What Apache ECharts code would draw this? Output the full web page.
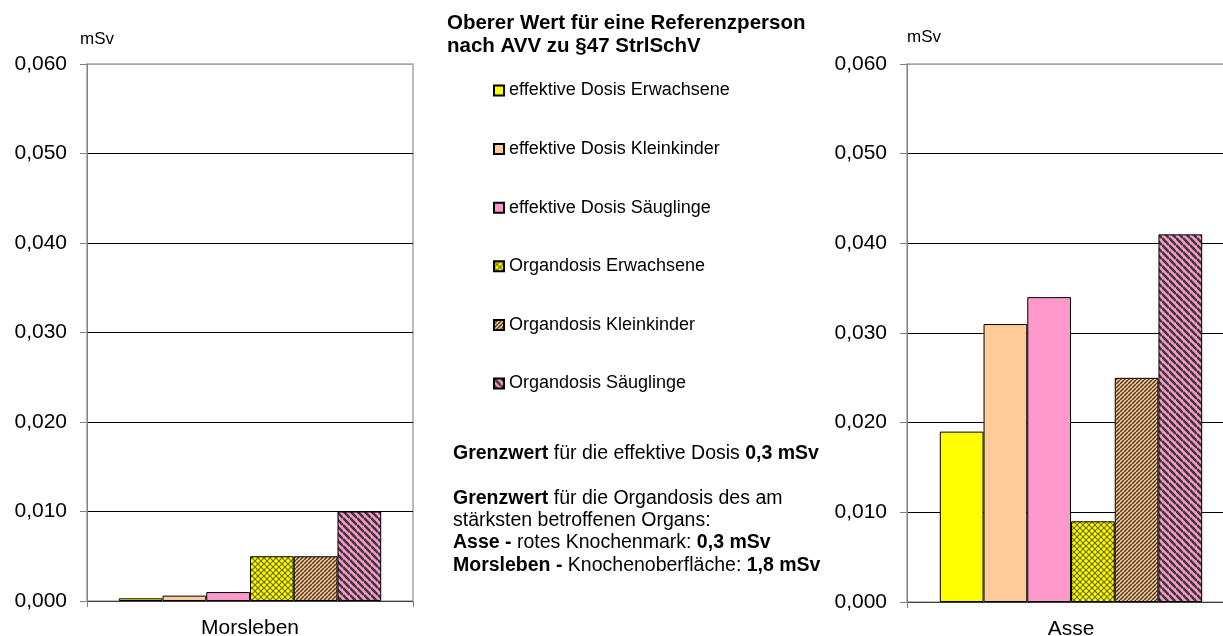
<!DOCTYPE html>
<html>
<head>
<meta charset="utf-8">
<script src="https://cdn.jsdelivr.net/npm/echarts@6/dist/echarts.min.js"></script>
<style>
html,body{margin:0;padding:0;background:#fff;overflow:hidden;}
#wrap{position:relative;width:1223px;height:636px;overflow:hidden;}
#c{position:absolute;left:0;top:0;width:1240px;height:636px;}
</style>
</head>
<body>
<div id="wrap"><div id="c"></div></div>
<script>
// ---- data ----
var seriesNames = ['effektive Dosis Erwachsene','effektive Dosis Kleinkinder','effektive Dosis Säuglinge',
                   'Organdosis Erwachsene','Organdosis Kleinkinder','Organdosis Säuglinge'];
var leftCategories = ['Morsleben'];
var rightCategories = ['Asse'];
var morslebenValues = [0.0003, 0.0006, 0.0010, 0.0050, 0.0050, 0.0100];
var asseValues = [0.019, 0.031, 0.034, 0.009, 0.025, 0.041];
var yTickLabels = ['0,000','0,010','0,020','0,030','0,040','0,050','0,060'];
var yUnit = 'mSv';
var titleLines = ['Oberer Wert für eine Referenzperson','nach AVV zu §47 StrlSchV'];

// ---- patterns ----
function stripes(bg, fg, n, w, dir) {
  var c = document.createElement('canvas');
  c.width = n; c.height = n;
  var g = c.getContext('2d');
  g.fillStyle = bg; g.fillRect(0,0,n,n);
  g.strokeStyle = fg; g.lineWidth = w;
  for (var k = -1; k <= 1; k++) {
    if (dir === '\\' || dir === 'x') {
      g.beginPath(); g.moveTo(0, k*n); g.lineTo(n, n + k*n); g.stroke();
    }
    if (dir === '/' || dir === 'x') {
      g.beginPath(); g.moveTo(0, n + k*n); g.lineTo(n, k*n); g.stroke();
    }
  }
  return {image: c, repeat: 'repeat'};
}
var colors = [
  '#ffff00',
  '#ffcc99',
  '#ff99cc',
  stripes('#ffff00', '#6e6e00', 6, 1.2, 'x'),
  stripes('#ffcc99', '#4a3a28', 4, 1.5, '/'),
  stripes('#ff99cc', '#3a3a3a', 7, 2.6, '\\')
];

var chart = echarts.init(document.getElementById('c'), null, {renderer:'canvas', width: 1240, height: 636});
var font = 'Liberation Sans, Arial, sans-serif';

function yAxis(gi) {
  return {
    type: 'value', gridIndex: gi, min: 0, max: 0.06, interval: 0.01,
    axisLine: {show: true, lineStyle: {color: '#808080', width: 1}},
    axisTick: {show: true, length: 7, lineStyle: {color: '#808080'}},
    axisLabel: {margin: 20, fontSize: 21, color: '#000', fontFamily: font,
      formatter: function (v) { return yTickLabels[Math.round(v / 0.01)]; }},
    splitLine: {show: true, lineStyle: {color: ['#000','#000','#000','#000','#000','#000','#a6a6a6'], width: 1}}
  };
}
function xAxis(gi, cats) {
  return {
    type: 'category', gridIndex: gi, data: cats,
    axisLine: {show: true, lineStyle: {color: '#404040', width: 1}},
    axisTick: {show: true, length: 6, alignWithLabel: false, lineStyle: {color: '#808080'}},
    axisLabel: {fontSize: 21, color: '#000', fontFamily: font, margin: 17}
  };
}

var series = [];
seriesNames.forEach(function (n, i) {
  series.push({name: n, type: 'bar', xAxisIndex: 0, yAxisIndex: 0, data: [morslebenValues[i]],
    barGap: '0%', barCategoryGap: '19.5%',
    itemStyle: {color: colors[i], borderColor: '#000', borderWidth: 1}});
});
seriesNames.forEach(function (n, i) {
  series.push({name: n, type: 'bar', xAxisIndex: 1, yAxisIndex: 1, data: [asseValues[i]],
    barGap: '0%', barCategoryGap: '20%',
    itemStyle: {color: colors[i], borderColor: '#000', borderWidth: 1}});
});

chart.setOption({
  animation: false,
  backgroundColor: '#fff',
  textStyle: {fontFamily: font},
  grid: [
    {left: 87, top: 64, width: 326, height: 537, outerBoundsMode: 'none', containLabel: false, show: true, borderColor: '#a6a6a6', borderWidth: 1.5, backgroundColor: 'transparent'},
    {left: 907, top: 64, width: 328, height: 538, outerBoundsMode: 'none', containLabel: false, show: true, borderColor: '#a6a6a6', borderWidth: 1.5, backgroundColor: 'transparent'}
  ],
  xAxis: [xAxis(0, leftCategories), xAxis(1, rightCategories)],
  yAxis: [yAxis(0), yAxis(1)],
  legend: {
    orient: 'vertical', left: 493, top: 81.5, padding: 0, itemWidth: 10, itemHeight: 10, itemGap: 40.6,
    icon: 'rect', selectedMode: false,
    textStyle: {fontSize: 18, lineHeight: 18, color: '#000', fontFamily: font},
    data: seriesNames
  },
  graphic: [
    {type: 'text', left: 80, top: 31, style: {text: yUnit, fill: '#000', font: '17px ' + font}},
    {type: 'text', left: 907, top: 29, style: {text: yUnit, fill: '#000', font: '17px ' + font}},
    {type: 'text', left: 447, top: 11.5, style: {text: titleLines.join('\n'), font: 'bold 20.5px ' + font, lineHeight: 23, fill: '#000'}},
    {type: 'text', left: 453, top: 442.7, style: {
      text: '{b|Grenzwert} für die effektive Dosis {b|0,3 mSv}',
      font: '19.5px ' + font, fill: '#000', lineHeight: 22,
      rich: {b: {fontWeight: 'bold', fontSize: 19.5, fontFamily: font, lineHeight: 22}}
    }},
    {type: 'text', left: 453, top: 487.6, style: {
      text: '{b|Grenzwert} für die Organdosis des am\nstärksten betroffenen Organs:\n{b|Asse -} rotes Knochenmark: {b|0,3 mSv}\n{b|Morsleben -} Knochenoberfläche: {b|1,8 mSv}',
      font: '19.5px ' + font, fill: '#000', lineHeight: 22.2,
      rich: {b: {fontWeight: 'bold', fontSize: 19.5, fontFamily: font, lineHeight: 22.2}}
    }}
  ],
  series: series
});
</script>
</body>
</html>
